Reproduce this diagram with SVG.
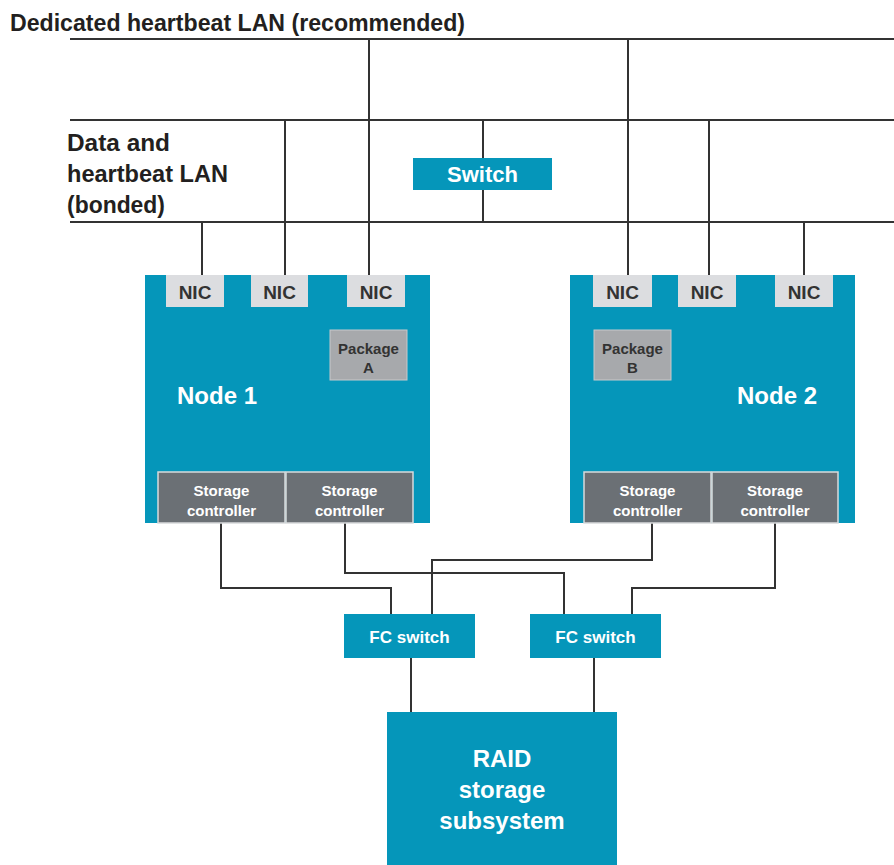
<svg xmlns="http://www.w3.org/2000/svg" width="894" height="865" viewBox="0 0 894 865">
<style>
.teal{fill:#0596ba}
.nic{fill:#dcdde0}
.pkg{fill:#a7a9ac;stroke:#c8c9cb;stroke-width:1}
.sc{fill:#6b7075;stroke:#d8dadc;stroke-width:1.5}
.ln{fill:none;stroke:#333;stroke-width:2}
text{font-family:"Liberation Sans",Arial,sans-serif;font-weight:bold}
.lbl{fill:#231f20;font-size:23px}
.w{fill:#fff}
.dk{fill:#333}
</style>
<rect width="894" height="865" fill="#fff"/>
<text class="lbl" x="10" y="31" textLength="455" lengthAdjust="spacingAndGlyphs">Dedicated heartbeat LAN (recommended)</text>
<g class="lbl">
<text x="67" y="151" textLength="103" lengthAdjust="spacingAndGlyphs">Data and</text>
<text x="67" y="182" textLength="161" lengthAdjust="spacingAndGlyphs">heartbeat LAN</text>
<text x="67" y="213" textLength="98" lengthAdjust="spacingAndGlyphs">(bonded)</text>
</g>
<g id="connectors" class="ln">
<path d="M70 39H894M70 120H894M70 222H894"/>
<path d="M369 39V275M628 39V275M285 120V275M709 120V275M202 222V275M804 222V275M483 120V222"/>
<path d="M221 523V588H391V614"/>
<path d="M345 523V573H564V614"/>
<path d="M652 523V560H432V614"/>
<path d="M775 523V588H632V614"/>
<path d="M411 658V712M594 658V712"/>
</g>
<g id="switch">
<rect class="teal" x="413" y="158" width="139" height="32"/>
<text class="w" x="482.5" y="182" font-size="22" text-anchor="middle">Switch</text>
</g>
<g id="node1">
<rect class="teal" x="145" y="275" width="285" height="248"/>
<rect class="nic" x="166" y="275" width="58" height="32"/>
<rect class="nic" x="251" y="275" width="57" height="32"/>
<rect class="nic" x="347" y="275" width="58" height="32"/>
<g class="dk" font-size="19" text-anchor="middle">
<text x="195" y="299">NIC</text><text x="279.5" y="299">NIC</text><text x="376" y="299">NIC</text>
</g>
<rect class="pkg" x="330" y="330" width="77" height="50"/>
<g class="dk" font-size="15" text-anchor="middle"><text x="368.5" y="354">Package</text><text x="368.5" y="373">A</text></g>
<text class="w" x="217" y="404" font-size="24" text-anchor="middle">Node 1</text>
<rect class="sc" x="158" y="472" width="127" height="51"/>
<rect class="sc" x="286" y="472" width="127" height="51"/>
<g class="w" font-size="15" text-anchor="middle">
<text x="221.5" y="496">Storage</text><text x="221.5" y="516">controller</text>
<text x="349.5" y="496">Storage</text><text x="349.5" y="516">controller</text>
</g>
</g>
<g id="node2">
<rect class="teal" x="570" y="275" width="285" height="248"/>
<rect class="nic" x="593" y="275" width="59" height="32"/>
<rect class="nic" x="678" y="275" width="58" height="32"/>
<rect class="nic" x="775" y="275" width="58" height="32"/>
<g class="dk" font-size="19" text-anchor="middle">
<text x="622.5" y="299">NIC</text><text x="707" y="299">NIC</text><text x="804" y="299">NIC</text>
</g>
<rect class="pkg" x="594" y="330" width="77" height="50"/>
<g class="dk" font-size="15" text-anchor="middle"><text x="632.5" y="354">Package</text><text x="632.5" y="373">B</text></g>
<text class="w" x="777" y="404" font-size="24" text-anchor="middle">Node 2</text>
<rect class="sc" x="584" y="472" width="127" height="51"/>
<rect class="sc" x="712" y="472" width="126" height="51"/>
<g class="w" font-size="15" text-anchor="middle">
<text x="647.5" y="496">Storage</text><text x="647.5" y="516">controller</text>
<text x="775" y="496">Storage</text><text x="775" y="516">controller</text>
</g>
</g>
<g id="fc1">
<rect class="teal" x="344" y="614" width="131" height="44"/>
<text class="w" x="409.5" y="643" font-size="17" text-anchor="middle">FC switch</text>
</g>
<g id="fc2">
<rect class="teal" x="530" y="614" width="131" height="44"/>
<text class="w" x="595.5" y="643" font-size="17" text-anchor="middle">FC switch</text>
</g>
<g id="raid">
<rect class="teal" x="387" y="712" width="230" height="153"/>
<g class="w" font-size="24" text-anchor="middle">
<text x="502" y="767">RAID</text><text x="502" y="798">storage</text><text x="502" y="829">subsystem</text>
</g>
</g>
</svg>
